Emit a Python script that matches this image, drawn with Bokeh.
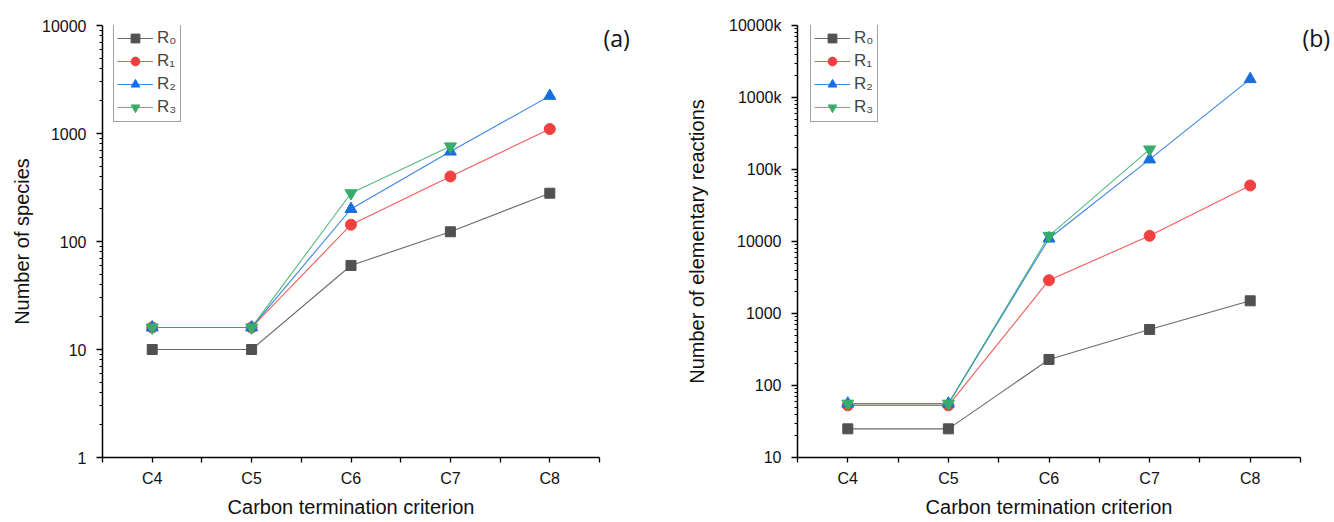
from bokeh.plotting import figure
from bokeh.layouts import row
from bokeh.models import FixedTicker, Legend, LegendItem, LogAxis
from bokeh.embed import file_html
from bokeh.resources import INLINE

# ---------------- data ----------------
categories = ["C4", "C5", "C6", "C7", "C8"]
series_names = ["R\u2080", "R\u2081", "R\u2082", "R\u2083"]

species_R0 = [10, 10, 60, 123, 280]
species_R1 = [16, 16, 143, 400, 1100]
species_R2 = [16, 16, 200, 680, 2230]
species_R3 = [16, 16, 280, 760]

reactions_R0 = [25, 25, 230, 600, 1500]
reactions_R1 = [53, 53, 2900, 12000, 60000]
reactions_R2 = [56, 56, 11000, 138000, 1800000]
reactions_R3 = [56, 56, 12000, 190000]

species_ticks = [1, 10, 100, 1000, 10000]
species_tick_labels = ["1", "10", "100", "1000", "10000"]
reaction_ticks = [10, 100, 1000, 10000, 100000, 1000000, 10000000]
reaction_tick_labels = ["10", "100", "1000", "10000", "100k", "1000k", "10000k"]

panel_tags = ["(a)", "(b)"]

# ---------------- styles ----------------
COLORS = ["#515151", "#F14040", "#1A6FDF", "#37AD6B"]
MARKERS = ["square", "circle", "triangle", "inverted_triangle"]
SIZES = [10, 11, 12, 12]
FONT = "Liberation Sans"
H = 522
FRAME_H = 432


def style_axes(p):
    for ax in (p.xaxis[0], p.yaxis[0]):
        ax.axis_line_width = 1.5
        ax.axis_line_color = "black"
        ax.major_tick_line_color = "black"
        ax.minor_tick_line_color = "black"
        ax.major_tick_line_width = 1.3
        ax.minor_tick_line_width = 1.1
        ax.major_tick_in = 0
        ax.minor_tick_in = 0
        ax.major_label_text_font = FONT
        ax.major_label_text_font_size = "16px"
        ax.major_label_text_color = "#111111"
        ax.axis_label_text_font = FONT
        ax.axis_label_text_font_size = "20px"
        ax.axis_label_text_font_style = "normal"
        ax.axis_label_text_color = "#111111"
    p.xaxis.major_tick_out = 5
    p.xaxis.minor_tick_out = 0
    p.yaxis.major_tick_out = 6
    p.yaxis.minor_tick_out = 3
    p.xgrid.visible = False
    p.ygrid.visible = False
    p.outline_line_color = None


def make_panel(width, border_left, border_right, y_range, ticks, tick_labels,
               ylabel, data, ylabel_standoff, legend_dx, tag, tag_y, tag_standoff):
    p = figure(width=width, height=H, y_axis_type="log",
               x_range=(0.5, len(categories) + 0.5), y_range=y_range,
               output_backend="svg", toolbar_location=None,
               min_border_left=border_left, min_border_right=border_right,
               min_border_top=25, min_border_bottom=H - 25 - FRAME_H,
               background_fill_color="white", border_fill_color="white")
    style_axes(p)

    xs_all = list(range(1, len(categories) + 1))
    half_ticks = [0.5 + 0.5 * i for i in range(2 * len(categories) + 1)]
    p.xaxis.ticker = FixedTicker(ticks=half_ticks)
    overrides = {t: "" for t in half_ticks}
    for x, c in zip(xs_all, categories):
        overrides[float(x)] = c
    p.xaxis.major_label_overrides = overrides
    p.xaxis.axis_label = "Carbon termination criterion"
    p.xaxis.major_label_standoff = 7
    p.xaxis.axis_label_standoff = 6

    minor = []
    for t in ticks[:-1]:
        minor += [m * t for m in range(2, 10)]
    p.yaxis.ticker = FixedTicker(ticks=ticks, minor_ticks=minor)
    p.yaxis.major_label_overrides = {float(t): l for t, l in zip(ticks, tick_labels)}
    p.yaxis.axis_label = ylabel
    p.yaxis.major_label_standoff = 10
    p.yaxis.axis_label_standoff = ylabel_standoff

    # panel tag "(a)" / "(b)" as a bare label on the right side
    tag_axis = LogAxis(ticker=FixedTicker(ticks=[tag_y]),
                       major_label_overrides={float(tag_y): tag},
                       axis_line_color=None, major_tick_line_color=None,
                       minor_tick_line_color=None, major_tick_out=0,
                       major_label_standoff=tag_standoff,
                       major_label_text_font="Open Sans",
                       major_label_text_font_size="23px",
                       major_label_text_color="#111111")
    p.add_layout(tag_axis, "right")

    items = []
    for i, vals in enumerate(data):
        xs = xs_all[:len(vals)]
        lr = p.line(xs, vals, line_color=COLORS[i], line_width=1.1, line_alpha=0.85)
        sr = p.scatter(xs, vals, marker=MARKERS[i], size=SIZES[i],
                       fill_color=COLORS[i], line_color=COLORS[i])
        items.append(LegendItem(label=series_names[i], renderers=[lr, sr]))

    legend = Legend(items=items, location=(legend_dx, FRAME_H - 97),
                    orientation="vertical",
                    label_text_font=FONT, label_text_font_size="17px",
                    label_height=22, glyph_height=22, glyph_width=36,
                    label_standoff=4, spacing=1, padding=3, margin=0,
                    border_line_color="#444444", border_line_width=1,
                    background_fill_color="white", background_fill_alpha=1)
    p.add_layout(legend)
    return p


left = make_panel(672, 102, 73, (1, 10000), species_ticks, species_tick_labels,
                  "Number of species",
                  [species_R0, species_R1, species_R2, species_R3],
                  6, 11, panel_tags[0], 7600, 4)

right = make_panel(662, 125, 34, (10, 10000000), reaction_ticks, reaction_tick_labels,
                   "Number of elementary reactions",
                   [reactions_R0, reactions_R1, reactions_R2, reactions_R3],
                   18, 13, panel_tags[1], 6600000, 2)

layout = row(left, right)
open("out.html", "w").write(file_html(layout, INLINE))
